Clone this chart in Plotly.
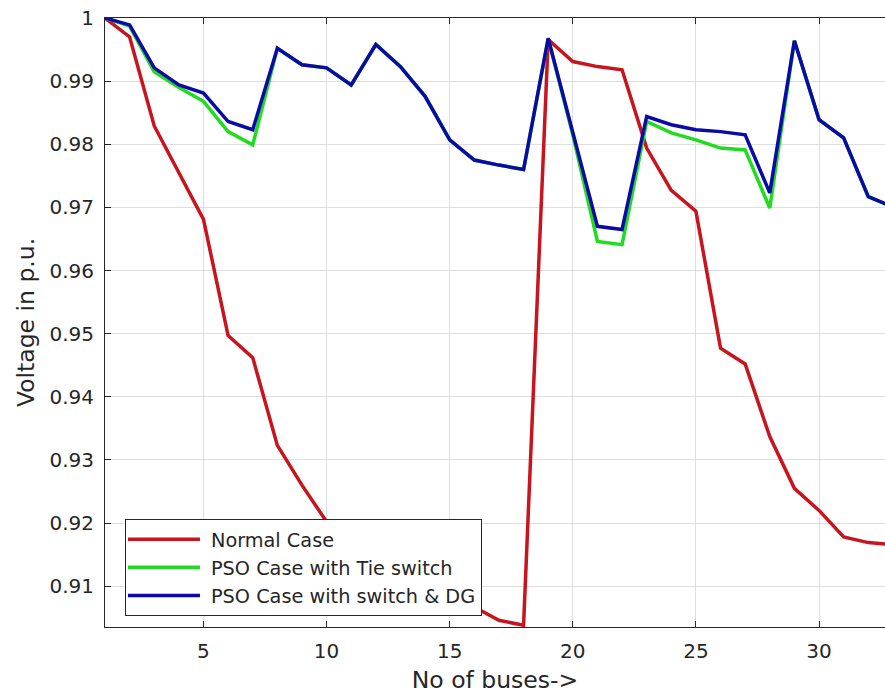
import plotly.graph_objects as go

# ---- data ----
buses = list(range(1, 34))

normal_case = [1.0000, 0.9970, 0.9829, 0.9755, 0.9681, 0.9497, 0.9462, 0.9323,
               0.9260, 0.9202, 0.9194, 0.9179, 0.9118, 0.9095, 0.9081, 0.9067,
               0.9046, 0.9038, 0.9966, 0.9931, 0.9923, 0.9918, 0.9794, 0.9727,
               0.9694, 0.9477, 0.9452, 0.9337, 0.9255, 0.9220, 0.9178, 0.9169,
               0.9166]

pso_tie_switch = [1.0000, 0.9987, 0.9915, 0.9890, 0.9868, 0.9820, 0.9799, 0.9952,
                  0.9926, 0.9921, 0.9894, 0.9958, 0.9923, 0.9876, 0.9807, 0.9775,
                  0.9767, 0.9760, 0.9967, 0.9815, 0.9646, 0.9641, 0.9836, 0.9818,
                  0.9807, 0.9794, 0.9791, 0.9699, 0.9964, 0.9839, 0.9810, 0.9717,
                  0.9701]

pso_switch_dg = [1.0000, 0.9989, 0.9921, 0.9894, 0.9881, 0.9836, 0.9823, 0.9952,
                 0.9926, 0.9921, 0.9894, 0.9958, 0.9923, 0.9876, 0.9807, 0.9775,
                 0.9767, 0.9760, 0.9968, 0.9821, 0.9670, 0.9665, 0.9844, 0.9831,
                 0.9823, 0.9820, 0.9815, 0.9723, 0.9964, 0.9839, 0.9810, 0.9717,
                 0.9701]

series_names = ["Normal Case", "PSO Case with Tie switch", "PSO Case with switch & DG"]
series_colors = ["#c8141e", "#1fdc1f", "#0a0aa6"]

x_tick_vals = [5, 10, 15, 20, 25, 30]
y_tick_vals = [0.91, 0.92, 0.93, 0.94, 0.95, 0.96, 0.97, 0.98, 0.99, 1.0]
y_tick_text = ["0.91", "0.92", "0.93", "0.94", "0.95", "0.96", "0.97", "0.98", "0.99", "1"]

FONT = "DejaVu Sans"
TXT = "#262626"

fig = go.Figure()
for name, vals, col in zip(series_names, [normal_case, pso_tie_switch, pso_switch_dg], series_colors):
    fig.add_trace(go.Scatter(x=buses, y=vals, mode="lines", name=name,
                             line=dict(color=col, width=3.5)))

fig.update_layout(
    width=885, height=698,
    margin=dict(l=105, r=0, t=18, b=71),
    paper_bgcolor="white", plot_bgcolor="white",
    font=dict(family=FONT, color=TXT, size=20),
    showlegend=True,
    legend=dict(x=0.0256, y=0.177, xanchor="left", yanchor="top",
                bgcolor="white", bordercolor=TXT, borderwidth=1,
                font=dict(family=FONT, size=19.3, color=TXT),
                itemwidth=75, traceorder="normal"),
)

fig.update_xaxes(
    range=[1, 32.68], tickvals=x_tick_vals,
    showgrid=True, gridcolor="#dedede", gridwidth=1,
    showline=True, linecolor=TXT, linewidth=1, mirror="ticks",
    ticks="inside", ticklen=6, tickcolor=TXT, ticklabelstandoff=6,
    tickfont=dict(family=FONT, size=20, color=TXT),
    zeroline=False, automargin=False,
    title=dict(text="No of buses->", font=dict(family=FONT, size=23.5, color=TXT), standoff=9),
)
fig.update_yaxes(
    range=[0.90353, 1.0], tickvals=y_tick_vals, ticktext=y_tick_text,
    showgrid=True, gridcolor="#dedede", gridwidth=1,
    showline=True, linecolor=TXT, linewidth=1, mirror=False,
    ticks="inside", ticklen=6, tickcolor=TXT, ticklabelstandoff=6,
    tickfont=dict(family=FONT, size=20, color=TXT),
    zeroline=False, automargin=False,
    title=dict(text="Voltage in p.u.", font=dict(family=FONT, size=23.5, color=TXT), standoff=8),
)

post = """
document.body.style.margin = '0';
document.body.style.padding = '0';
document.body.style.overflow = 'hidden';
var gd = document.getElementById('{plot_id}');
function fixLegendLines(){
  gd.querySelectorAll('.legend .legendlines path.js-line').forEach(function(p){
    p.setAttribute('d', 'M2,0h72');
  });
}
fixLegendLines();
gd.on('plotly_afterplot', fixLegendLines);
"""

fig.write_html("out.html", post_script=post, config={"displayModeBar": False})
